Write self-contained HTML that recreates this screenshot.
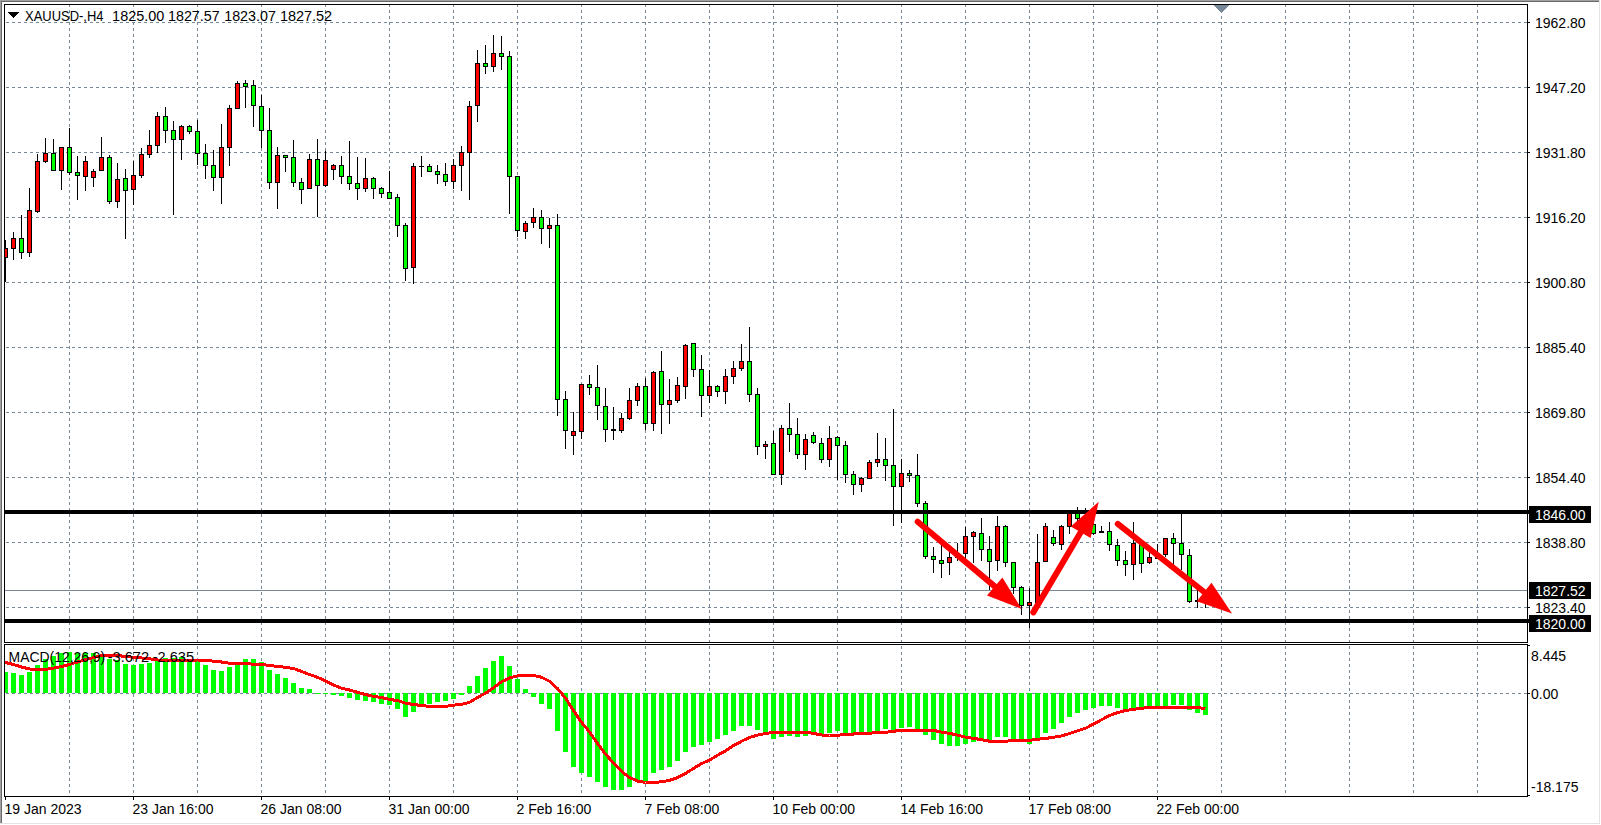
<!DOCTYPE html>
<html><head><meta charset="utf-8"><title>XAUUSD-,H4</title>
<style>html,body{margin:0;padding:0;background:#fff;overflow:hidden}svg{display:block}text{white-space:pre}</style>
</head><body>
<svg width="1601" height="825" viewBox="0 0 1601 825" shape-rendering="crispEdges">
<defs><clipPath id="mainclip"><rect x="5" y="5" width="1522" height="637"/></clipPath>
<clipPath id="macdclip"><rect x="5" y="645" width="1522" height="151"/></clipPath></defs>
<rect width="1601" height="825" fill="#fff"/>
<rect x="0" y="0" width="1" height="824" fill="#a0a0a0"/>
<rect x="0" y="0" width="1600" height="1" fill="#a0a0a0"/>
<rect x="1" y="1" width="1" height="822" fill="#696969"/>
<rect x="1" y="1" width="1598" height="1" fill="#696969"/>
<rect x="1599" y="0" width="1" height="824" fill="#e3e3e3"/>
<rect x="0" y="823" width="1600" height="1" fill="#e3e3e3"/>
<path d="M6 22.5H1527 M6 87.5H1527 M6 152.5H1527 M6 217.5H1527 M6 282.5H1527 M6 347.5H1527 M6 412.5H1527 M6 477.5H1527 M6 542.5H1527 M6 607.5H1527 M6 693.5H1527" stroke="#778899" stroke-width="1" stroke-dasharray="3 3" fill="none"/>
<path d="M69.5 4V642 M69.5 646V796 M133.5 4V642 M133.5 646V796 M197.5 4V642 M197.5 646V796 M261.5 4V642 M261.5 646V796 M325.5 4V642 M325.5 646V796 M389.5 4V642 M389.5 646V796 M453.5 4V642 M453.5 646V796 M517.5 4V642 M517.5 646V796 M581.5 4V642 M581.5 646V796 M645.5 4V642 M645.5 646V796 M709.5 4V642 M709.5 646V796 M773.5 4V642 M773.5 646V796 M837.5 4V642 M837.5 646V796 M901.5 4V642 M901.5 646V796 M965.5 4V642 M965.5 646V796 M1029.5 4V642 M1029.5 646V796 M1093.5 4V642 M1093.5 646V796 M1157.5 4V642 M1157.5 646V796 M1221.5 4V642 M1221.5 646V796 M1285.5 4V642 M1285.5 646V796 M1349.5 4V642 M1349.5 646V796 M1413.5 4V642 M1413.5 646V796 M1477.5 4V642 M1477.5 646V796" stroke="#778899" stroke-width="1" stroke-dasharray="3 3" fill="none"/>
<rect x="5" y="590" width="1522" height="1" fill="#778899"/>
<svg x="0" y="0" width="1601" height="825" overflow="hidden"><g clip-path="url(#mainclip)">
<path d="M5 240h1V282h-1zM13 232h1V260h-1zM21 215h1V259h-1zM29 188h1V257h-1zM37 154h1V213h-1zM45 138h1V163h-1zM53 139h1V170h-1zM61 147h1V190h-1zM69 128h1V175h-1zM77 156h1V200h-1zM85 156h1V191h-1zM93 169h1V187h-1zM101 137h1V171h-1zM109 155h1V204h-1zM117 163h1V208h-1zM125 169h1V239h-1zM133 161h1V205h-1zM141 148h1V178h-1zM149 130h1V158h-1zM157 112h1V153h-1zM165 107h1V143h-1zM173 121h1V215h-1zM181 125h1V160h-1zM189 125h1V134h-1zM197 120h1V165h-1zM205 144h1V179h-1zM213 150h1V191h-1zM221 124h1V204h-1zM229 105h1V166h-1zM237 81h1V108h-1zM245 80h1V108h-1zM253 80h1V127h-1zM261 95h1V148h-1zM269 108h1V189h-1zM277 147h1V209h-1zM285 155h1V172h-1zM293 140h1V187h-1zM301 178h1V204h-1zM309 154h1V189h-1zM317 139h1V217h-1zM325 151h1V187h-1zM333 164h1V180h-1zM341 156h1V184h-1zM349 141h1V190h-1zM357 157h1V200h-1zM365 158h1V192h-1zM373 177h1V199h-1zM381 187h1V198h-1zM389 171h1V199h-1zM397 194h1V237h-1zM405 223h1V281h-1zM413 163h1V284h-1zM421 156h1V177h-1zM429 164h1V172h-1zM437 165h1V184h-1zM445 163h1V186h-1zM453 159h1V189h-1zM461 146h1V191h-1zM469 101h1V200h-1zM477 50h1V122h-1zM485 45h1V74h-1zM493 35h1V72h-1zM501 36h1V70h-1zM509 51h1V214h-1zM517 176h1V237h-1zM525 221h1V239h-1zM533 208h1V228h-1zM541 210h1V244h-1zM549 218h1V248h-1zM557 214h1V416h-1zM565 391h1V449h-1zM573 412h1V455h-1zM581 384h1V439h-1zM589 375h1V395h-1zM597 365h1V420h-1zM605 388h1V442h-1zM613 407h1V440h-1zM621 413h1V433h-1zM629 388h1V420h-1zM637 383h1V406h-1zM645 378h1V430h-1zM653 371h1V431h-1zM661 351h1V434h-1zM669 379h1V424h-1zM677 377h1V403h-1zM685 344h1V399h-1zM693 343h1V377h-1zM701 355h1V417h-1zM709 370h1V403h-1zM717 385h1V397h-1zM725 369h1V404h-1zM733 361h1V384h-1zM741 344h1V371h-1zM749 327h1V402h-1zM757 388h1V455h-1zM765 441h1V459h-1zM773 431h1V475h-1zM781 425h1V485h-1zM789 403h1V452h-1zM797 418h1V459h-1zM805 434h1V470h-1zM813 432h1V444h-1zM821 438h1V463h-1zM829 426h1V467h-1zM837 436h1V480h-1zM845 441h1V483h-1zM853 471h1V495h-1zM861 477h1V492h-1zM869 460h1V479h-1zM877 433h1V467h-1zM885 438h1V481h-1zM893 409h1V526h-1zM901 459h1V523h-1zM909 470h1V482h-1zM917 454h1V507h-1zM925 501h1V559h-1zM933 547h1V573h-1zM941 545h1V578h-1zM949 550h1V575h-1zM957 543h1V561h-1zM965 527h1V558h-1zM973 531h1V563h-1zM981 518h1V561h-1zM989 536h1V590h-1zM997 516h1V571h-1zM1005 525h1V567h-1zM1013 562h1V594h-1zM1021 586h1V615h-1zM1029 588h1V628h-1zM1037 534h1V610h-1zM1045 523h1V562h-1zM1053 530h1V546h-1zM1061 525h1V550h-1zM1069 511h1V534h-1zM1077 507h1V521h-1zM1085 508h1V524h-1zM1093 520h1V535h-1zM1101 526h1V532h-1zM1109 522h1V551h-1zM1117 539h1V566h-1zM1125 551h1V576h-1zM1133 522h1V580h-1zM1141 543h1V573h-1zM1149 550h1V564h-1zM1157 544h1V559h-1zM1165 538h1V557h-1zM1173 533h1V565h-1zM1181 512h1V570h-1zM1189 549h1V603h-1zM1197 588h1V608h-1zM1205 590h1V608h-1z" fill="#000"/>
<path d="M3 248h5v10h-5zM11 238h5v11h-5zM19 238h5v15h-5zM27 210h5v43h-5zM35 161h5v51h-5zM43 153h5v9h-5zM51 153h5v18h-5zM59 147h5v24h-5zM67 147h5v26h-5zM75 172h5v4h-5zM83 161h5v16h-5zM91 171h5v7h-5zM99 157h5v14h-5zM107 157h5v45h-5zM115 179h5v23h-5zM123 178h5v13h-5zM131 175h5v15h-5zM139 154h5v22h-5zM147 145h5v10h-5zM155 116h5v30h-5zM163 116h5v15h-5zM171 130h5v10h-5zM179 126h5v14h-5zM187 126h5v6h-5zM195 131h5v23h-5zM203 153h5v13h-5zM211 165h5v13h-5zM219 147h5v31h-5zM227 108h5v40h-5zM235 83h5v26h-5zM243 83h5v4h-5zM251 85h5v21h-5zM259 106h5v25h-5zM267 130h5v53h-5zM275 155h5v28h-5zM283 155h5v3h-5zM291 157h5v26h-5zM299 182h5v8h-5zM307 159h5v30h-5zM315 159h5v27h-5zM323 160h5v26h-5zM331 165h5v5h-5zM339 165h5v12h-5zM347 176h5v8h-5zM355 183h5v6h-5zM363 178h5v11h-5zM371 178h5v11h-5zM379 188h5v6h-5zM387 192h5v7h-5zM395 197h5v29h-5zM403 225h5v44h-5zM411 166h5v102h-5zM419 166h5v1h-5zM427 166h5v6h-5zM435 171h5v4h-5zM443 174h5v8h-5zM451 165h5v17h-5zM459 152h5v14h-5zM467 106h5v47h-5zM475 63h5v43h-5zM483 63h5v4h-5zM491 53h5v14h-5zM499 53h5v4h-5zM507 56h5v121h-5zM515 176h5v55h-5zM523 223h5v9h-5zM531 217h5v6h-5zM539 217h5v12h-5zM547 225h5v4h-5zM555 225h5v175h-5zM563 399h5v32h-5zM571 431h5v5h-5zM579 384h5v48h-5zM587 384h5v4h-5zM595 387h5v19h-5zM603 406h5v24h-5zM611 429h5v2h-5zM619 418h5v13h-5zM627 400h5v19h-5zM635 386h5v15h-5zM643 386h5v38h-5zM651 372h5v52h-5zM659 371h5v34h-5zM667 400h5v5h-5zM675 385h5v16h-5zM683 345h5v42h-5zM691 343h5v27h-5zM699 369h5v27h-5zM707 386h5v10h-5zM715 386h5v6h-5zM723 376h5v16h-5zM731 368h5v9h-5zM739 361h5v8h-5zM747 361h5v34h-5zM755 394h5v53h-5zM763 444h5v3h-5zM771 443h5v32h-5zM779 428h5v47h-5zM787 428h5v7h-5zM795 434h5v21h-5zM803 439h5v16h-5zM811 435h5v8h-5zM819 443h5v17h-5zM827 438h5v22h-5zM835 437h5v9h-5zM843 445h5v30h-5zM851 474h5v11h-5zM859 478h5v7h-5zM867 462h5v17h-5zM875 459h5v4h-5zM883 459h5v7h-5zM891 465h5v22h-5zM899 473h5v14h-5zM907 473h5v3h-5zM915 475h5v29h-5zM923 503h5v54h-5zM931 556h5v4h-5zM939 560h5v4h-5zM947 557h5v6h-5zM955 553h5v5h-5zM963 536h5v18h-5zM971 532h5v5h-5zM979 533h5v17h-5zM987 549h5v13h-5zM995 526h5v35h-5zM1003 526h5v37h-5zM1011 562h5v26h-5zM1019 587h5v19h-5zM1027 602h5v4h-5zM1035 562h5v41h-5zM1043 526h5v36h-5zM1051 537h5v7h-5zM1059 526h5v19h-5zM1067 512h5v15h-5zM1075 512h5v7h-5zM1083 517h5v5h-5zM1091 524h5v10h-5zM1099 531h5v2h-5zM1107 531h5v14h-5zM1115 545h5v16h-5zM1123 560h5v5h-5zM1131 543h5v22h-5zM1139 544h5v20h-5zM1147 557h5v6h-5zM1155 553h5v6h-5zM1163 538h5v17h-5zM1171 538h5v6h-5zM1179 543h5v12h-5zM1187 555h5v47h-5zM1195 600h5v2h-5zM1203 590h5v11h-5z" fill="#000"/>
<path d="M4 249h3v8h-3zM12 239h3v9h-3zM28 211h3v41h-3zM36 162h3v49h-3zM44 154h3v7h-3zM60 148h3v22h-3zM84 162h3v14h-3zM92 172h3v5h-3zM100 158h3v12h-3zM116 180h3v21h-3zM132 176h3v13h-3zM140 155h3v20h-3zM148 146h3v8h-3zM156 117h3v28h-3zM180 127h3v12h-3zM220 148h3v29h-3zM228 109h3v38h-3zM236 84h3v24h-3zM276 156h3v26h-3zM308 160h3v28h-3zM324 161h3v24h-3zM332 166h3v3h-3zM364 179h3v9h-3zM412 167h3v100h-3zM452 166h3v15h-3zM460 153h3v12h-3zM468 107h3v45h-3zM476 64h3v41h-3zM492 54h3v12h-3zM524 224h3v7h-3zM532 218h3v4h-3zM548 226h3v2h-3zM572 432h3v3h-3zM580 385h3v46h-3zM620 419h3v11h-3zM628 401h3v17h-3zM636 387h3v13h-3zM652 373h3v50h-3zM668 401h3v3h-3zM676 386h3v14h-3zM684 346h3v40h-3zM708 387h3v8h-3zM724 377h3v14h-3zM732 369h3v7h-3zM740 362h3v6h-3zM764 445h3v1h-3zM780 429h3v45h-3zM804 440h3v14h-3zM828 439h3v20h-3zM860 479h3v5h-3zM868 463h3v15h-3zM876 460h3v2h-3zM900 474h3v12h-3zM948 558h3v4h-3zM964 537h3v16h-3zM972 533h3v3h-3zM996 527h3v33h-3zM1028 603h3v2h-3zM1036 563h3v39h-3zM1044 527h3v34h-3zM1060 527h3v17h-3zM1068 513h3v13h-3zM1132 544h3v20h-3zM1148 558h3v4h-3zM1164 539h3v15h-3zM1204 591h3v9h-3z" fill="#ff0000"/>
<path d="M20 239h3v13h-3zM52 154h3v16h-3zM68 148h3v24h-3zM76 173h3v2h-3zM108 158h3v43h-3zM124 179h3v11h-3zM164 117h3v13h-3zM172 131h3v8h-3zM188 127h3v4h-3zM196 132h3v21h-3zM204 154h3v11h-3zM212 166h3v11h-3zM244 84h3v2h-3zM252 86h3v19h-3zM260 107h3v23h-3zM268 131h3v51h-3zM284 156h3v1h-3zM292 158h3v24h-3zM300 183h3v6h-3zM316 160h3v25h-3zM340 166h3v10h-3zM348 177h3v6h-3zM356 184h3v4h-3zM372 179h3v9h-3zM380 189h3v4h-3zM388 193h3v5h-3zM396 198h3v27h-3zM404 226h3v42h-3zM428 167h3v4h-3zM436 172h3v2h-3zM444 175h3v6h-3zM484 64h3v2h-3zM500 54h3v2h-3zM508 57h3v119h-3zM516 177h3v53h-3zM540 218h3v10h-3zM556 226h3v173h-3zM564 400h3v30h-3zM588 385h3v2h-3zM596 388h3v17h-3zM604 407h3v22h-3zM644 387h3v36h-3zM660 372h3v32h-3zM692 344h3v25h-3zM700 370h3v25h-3zM716 387h3v4h-3zM748 362h3v32h-3zM756 395h3v51h-3zM772 444h3v30h-3zM788 429h3v5h-3zM796 435h3v19h-3zM812 436h3v6h-3zM820 444h3v15h-3zM836 438h3v7h-3zM844 446h3v28h-3zM852 475h3v9h-3zM884 460h3v5h-3zM892 466h3v20h-3zM908 474h3v1h-3zM916 476h3v27h-3zM924 504h3v52h-3zM932 557h3v2h-3zM940 561h3v2h-3zM956 554h3v3h-3zM980 534h3v15h-3zM988 550h3v11h-3zM1004 527h3v35h-3zM1012 563h3v24h-3zM1020 588h3v17h-3zM1052 538h3v5h-3zM1076 513h3v5h-3zM1084 518h3v3h-3zM1092 525h3v8h-3zM1108 532h3v12h-3zM1116 546h3v14h-3zM1124 561h3v3h-3zM1140 545h3v18h-3zM1156 554h3v4h-3zM1172 539h3v4h-3zM1180 544h3v10h-3zM1188 556h3v45h-3z" fill="#00ff00"/>
</g></svg>
<rect x="5" y="510" width="1524" height="4" fill="#000"/>
<rect x="5" y="619" width="1524" height="4" fill="#000"/>
<g clip-path="url(#macdclip)"><path d="M3 672h5V693h-5zM11 673h5V693h-5zM19 675h5V693h-5zM27 672h5V693h-5zM35 665h5V693h-5zM43 659h5V693h-5zM51 656h5V693h-5zM59 653h5V693h-5zM67 652h5V693h-5zM75 653h5V693h-5zM83 653h5V693h-5zM91 653h5V693h-5zM99 656h5V693h-5zM107 659h5V693h-5zM115 660h5V693h-5zM123 664h5V693h-5zM131 665h5V693h-5zM139 664h5V693h-5zM147 663h5V693h-5zM155 660h5V693h-5zM163 658h5V693h-5zM171 658h5V693h-5zM179 657h5V693h-5zM187 660h5V693h-5zM195 660h5V693h-5zM203 665h5V693h-5zM211 670h5V693h-5zM219 671h5V693h-5zM227 667h5V693h-5zM235 664h5V693h-5zM243 659h5V693h-5zM251 659h5V693h-5zM259 662h5V693h-5zM267 670h5V693h-5zM275 674h5V693h-5zM283 678h5V693h-5zM291 683h5V693h-5zM299 688h5V693h-5zM307 689h5V693h-5zM315 693h5V694h-5zM323 693h5V694h-5zM331 693h5V695h-5zM339 693h5V696h-5zM347 693h5V698h-5zM355 693h5V700h-5zM363 693h5V701h-5zM371 693h5V702h-5zM379 693h5V704h-5zM387 693h5V705h-5zM395 693h5V709h-5zM403 693h5V717h-5zM411 693h5V712h-5zM419 693h5V705h-5zM427 693h5V704h-5zM435 693h5V702h-5zM443 693h5V701h-5zM451 693h5V699h-5zM459 693h5V695h-5zM467 686h5V693h-5zM475 676h5V693h-5zM483 668h5V693h-5zM491 661h5V693h-5zM499 656h5V693h-5zM507 666h5V693h-5zM515 679h5V693h-5zM523 689h5V693h-5zM531 693h5V697h-5zM539 693h5V704h-5zM547 693h5V709h-5zM555 693h5V731h-5zM563 693h5V752h-5zM571 693h5V767h-5zM579 693h5V773h-5zM587 693h5V777h-5zM595 693h5V782h-5zM603 693h5V787h-5zM611 693h5V790h-5zM619 693h5V790h-5zM627 693h5V787h-5zM635 693h5V780h-5zM643 693h5V781h-5zM651 693h5V773h-5zM659 693h5V770h-5zM667 693h5V767h-5zM675 693h5V761h-5zM683 693h5V752h-5zM691 693h5V747h-5zM699 693h5V745h-5zM707 693h5V742h-5zM715 693h5V739h-5zM723 693h5V735h-5zM731 693h5V731h-5zM739 693h5V726h-5zM747 693h5V726h-5zM755 693h5V730h-5zM763 693h5V733h-5zM771 693h5V739h-5zM779 693h5V737h-5zM787 693h5V736h-5zM795 693h5V737h-5zM803 693h5V736h-5zM811 693h5V734h-5zM819 693h5V734h-5zM827 693h5V733h-5zM835 693h5V731h-5zM843 693h5V733h-5zM851 693h5V733h-5zM859 693h5V732h-5zM867 693h5V732h-5zM875 693h5V731h-5zM883 693h5V729h-5zM891 693h5V730h-5zM899 693h5V728h-5zM907 693h5V727h-5zM915 693h5V730h-5zM923 693h5V735h-5zM931 693h5V740h-5zM939 693h5V744h-5zM947 693h5V746h-5zM955 693h5V746h-5zM963 693h5V744h-5zM971 693h5V742h-5zM979 693h5V740h-5zM987 693h5V740h-5zM995 693h5V737h-5zM1003 693h5V737h-5zM1011 693h5V739h-5zM1019 693h5V740h-5zM1027 693h5V744h-5zM1035 693h5V738h-5zM1043 693h5V733h-5zM1051 693h5V729h-5zM1059 693h5V723h-5zM1067 693h5V717h-5zM1075 693h5V713h-5zM1083 693h5V710h-5zM1091 693h5V708h-5zM1099 693h5V706h-5zM1107 693h5V706h-5zM1115 693h5V708h-5zM1123 693h5V709h-5zM1131 693h5V708h-5zM1139 693h5V708h-5zM1147 693h5V706h-5zM1155 693h5V706h-5zM1163 693h5V706h-5zM1171 693h5V705h-5zM1179 693h5V705h-5zM1187 693h5V710h-5zM1195 693h5V713h-5zM1203 693h5V715h-5z" fill="#00ff00"/>
<polyline points="4,662 5.5,662.5 13.5,664.5 21.5,667 29.5,669 37.5,669.4 45.5,669.4 53.5,668.1 61.5,666.5 69.5,664.5 77.5,662 85.5,659.6 93.5,657.6 101.5,655.6 109.5,655.1 117.5,655.4 125.5,656.6 133.5,657.2 141.5,658 149.5,658.8 157.5,660 165.5,660.8 173.5,660.8 181.5,660.8 189.5,660.8 197.5,660 205.5,660 213.5,661.2 221.5,662 229.5,663.3 237.5,663.3 245.5,663.3 253.5,664.4 261.5,664.3 269.5,665.5 277.5,666.4 285.5,667.3 293.5,668.5 301.5,671.4 309.5,674.5 317.5,677.3 325.5,680.9 333.5,685 341.5,688.2 349.5,690 357.5,692.3 365.5,694.5 373.5,696.4 381.5,697.5 389.5,699.4 397.5,700.6 405.5,703.2 413.5,704.5 421.5,705.5 429.5,706.4 437.5,706.4 445.5,706.4 453.5,705.2 461.5,704.3 469.5,702.3 477.5,697.5 485.5,693.2 493.5,687.7 501.5,681.8 509.5,677.9 517.5,675.9 525.5,675.2 533.5,675.5 541.5,677.2 549.5,681.3 557.5,688.6 565.5,698 573.5,710.7 581.5,722.2 589.5,732 597.5,743.5 605.5,754.1 613.5,763.1 621.5,771.3 629.5,777.5 637.5,781 645.5,782.5 653.5,782.5 661.5,781.8 669.5,780.4 677.5,777.6 685.5,773.4 693.5,768.5 701.5,763.6 709.5,760.1 717.5,755.3 725.5,750.8 733.5,745.5 741.5,741.3 749.5,737.4 757.5,735.1 765.5,733.5 773.5,732.3 781.5,732.3 789.5,732.3 797.5,732.3 805.5,732.3 813.5,733.4 821.5,735 829.5,735.5 837.5,735.5 845.5,734 853.5,734 861.5,733.4 869.5,733.2 877.5,732.5 885.5,732.3 893.5,731.2 901.5,730.4 909.5,730.4 917.5,730.4 925.5,730.4 933.5,730.4 941.5,732.1 949.5,733.4 957.5,735.1 965.5,737.2 973.5,738.3 981.5,739.7 989.5,741.2 997.5,741.2 1005.5,741.2 1013.5,740.6 1021.5,740.3 1029.5,740.3 1037.5,739.3 1045.5,738.5 1053.5,737.2 1061.5,735.9 1069.5,733.5 1077.5,730.8 1085.5,728.3 1093.5,724 1101.5,719.8 1109.5,715.5 1117.5,712.6 1125.5,710.5 1133.5,709.4 1141.5,708.3 1149.5,707.4 1157.5,707.4 1165.5,707.4 1173.5,707.4 1181.5,707.4 1189.5,707.4 1197.5,707.5 1205.5,708.6" fill="none" stroke="#ff0000" stroke-width="3" stroke-linejoin="round"/></g>
<path d="M4.5 4.5H1527.5V642.5H4.5Z M4.5 644.5H1527.5V796.5H4.5Z" stroke="#000" stroke-width="1" fill="none"/>
<line x1="917.7" y1="521.8" x2="994.7" y2="586.4" stroke="#ff0000" stroke-width="6" stroke-linecap="round" shape-rendering="geometricPrecision"/>
<polygon points="987.0,595.4 1021.7,609.0 1002.4,577.4" fill="#ff0000" shape-rendering="geometricPrecision"/>
<line x1="1033.3" y1="612.4" x2="1080.6999999999998" y2="532.25" stroke="#ff0000" stroke-width="6" stroke-linecap="round" shape-rendering="geometricPrecision"/>
<polygon points="1070.8,526.5 1098.7,501.7 1090.6,538.0" fill="#ff0000" shape-rendering="geometricPrecision"/>
<line x1="1117.8" y1="523.9" x2="1204.15" y2="592.0" stroke="#ff0000" stroke-width="6" stroke-linecap="round" shape-rendering="geometricPrecision"/>
<polygon points="1196.8,601.2 1232.0,613.6 1211.5,582.8" fill="#ff0000" shape-rendering="geometricPrecision"/>
<polygon points="1213.5,5 1229.5,5 1221.5,13" fill="#778899"/>
<path d="M1528 22h2v1h-2zM1528 87h2v1h-2zM1528 152h2v1h-2zM1528 217h2v1h-2zM1528 282h2v1h-2zM1528 347h2v1h-2zM1528 412h2v1h-2zM1528 477h2v1h-2zM1528 542h2v1h-2zM1528 607h2v1h-2zM1528 645h2v1h-2zM1528 693h2v1h-2zM1528 795h2v1h-2zM5 797h1v3h-1zM133 797h1v3h-1zM261 797h1v3h-1zM389 797h1v3h-1zM517 797h1v3h-1zM645 797h1v3h-1zM773 797h1v3h-1zM901 797h1v3h-1zM1029 797h1v3h-1zM1157 797h1v3h-1z" fill="#000"/>
<g font-family="'Liberation Sans', 'DejaVu Sans', sans-serif">
<text x="1535" y="28" font-size="14" fill="#000">1962.80</text>
<text x="1535" y="93" font-size="14" fill="#000">1947.20</text>
<text x="1535" y="158" font-size="14" fill="#000">1931.80</text>
<text x="1535" y="223" font-size="14" fill="#000">1916.20</text>
<text x="1535" y="288" font-size="14" fill="#000">1900.80</text>
<text x="1535" y="353" font-size="14" fill="#000">1885.40</text>
<text x="1535" y="418" font-size="14" fill="#000">1869.80</text>
<text x="1535" y="483" font-size="14" fill="#000">1854.40</text>
<text x="1535" y="548" font-size="14" fill="#000">1838.80</text>
<text x="1535" y="613" font-size="14" fill="#000">1823.40</text>
<rect x="1529" y="506" width="62" height="17" fill="#000"/>
<text x="1535" y="520" font-size="14" fill="#fff">1846.00</text>
<rect x="1529" y="582" width="62" height="17" fill="#000"/>
<text x="1535" y="596" font-size="14" fill="#fff">1827.52</text>
<rect x="1529" y="615" width="62" height="17" fill="#000"/>
<text x="1535" y="629" font-size="14" fill="#fff">1820.00</text>
<text x="1531" y="661" font-size="14" fill="#000">8.445</text>
<text x="1531" y="699" font-size="14" fill="#000">0.00</text>
<text x="1531" y="792" font-size="14" fill="#000">-18.175</text>
<text x="4.5" y="814" font-size="14" fill="#000">19 Jan 2023</text>
<text x="132.5" y="814" font-size="14" fill="#000">23 Jan 16:00</text>
<text x="260.5" y="814" font-size="14" fill="#000">26 Jan 08:00</text>
<text x="388.5" y="814" font-size="14" fill="#000">31 Jan 00:00</text>
<text x="516.5" y="814" font-size="14" fill="#000">2 Feb 16:00</text>
<text x="644.5" y="814" font-size="14" fill="#000">7 Feb 08:00</text>
<text x="772.5" y="814" font-size="14" fill="#000">10 Feb 00:00</text>
<text x="900.5" y="814" font-size="14" fill="#000">14 Feb 16:00</text>
<text x="1028.5" y="814" font-size="14" fill="#000">17 Feb 08:00</text>
<text x="1156.5" y="814" font-size="14" fill="#000">22 Feb 00:00</text>
<polygon points="8,12 19,12 13.5,18" fill="#000"/>
<text x="25.1" y="21" font-size="14" fill="#000" textLength="78.4" lengthAdjust="spacingAndGlyphs">XAUUSD-,H4</text>
<text x="112.1" y="21" font-size="14" fill="#000" textLength="52.27" lengthAdjust="spacingAndGlyphs">1825.00</text>
<text x="168.0" y="21" font-size="14" fill="#000" textLength="51.65" lengthAdjust="spacingAndGlyphs">1827.57</text>
<text x="224.2" y="21" font-size="14" fill="#000" textLength="51.65" lengthAdjust="spacingAndGlyphs">1823.07</text>
<text x="279.9" y="21" font-size="14" fill="#000" textLength="52.27" lengthAdjust="spacingAndGlyphs">1827.52</text>
<text x="8.6" y="662" font-size="14" fill="#000" textLength="96.6" lengthAdjust="spacingAndGlyphs">MACD(12,26,9)</text>
<text x="107.7" y="662" font-size="14" fill="#000" textLength="41.4" lengthAdjust="spacingAndGlyphs">-3.672</text>
<text x="152.7" y="662" font-size="14" fill="#000" textLength="41.4" lengthAdjust="spacingAndGlyphs">-2.635</text>
</g>
</svg>
</body></html>
